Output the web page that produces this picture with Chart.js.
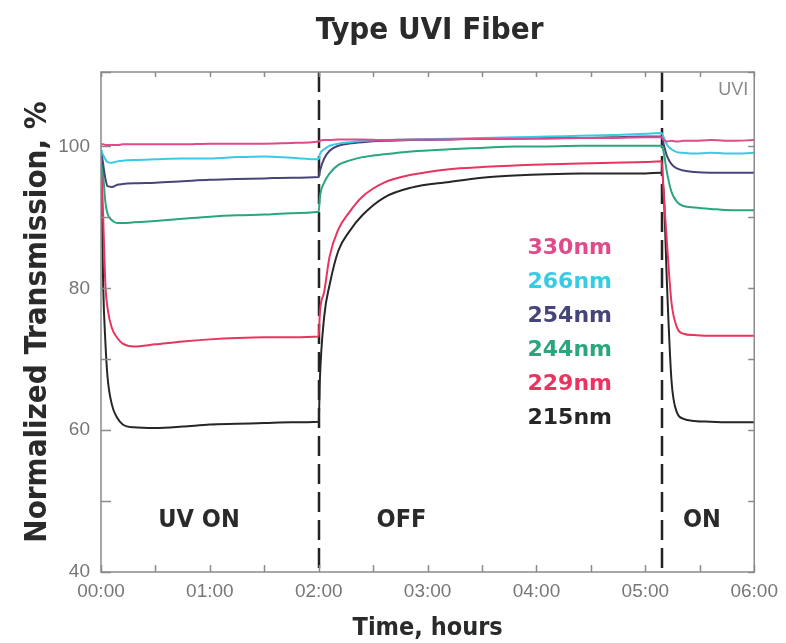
<!DOCTYPE html>
<html>
<head>
<meta charset="utf-8">
<script src="https://cdn.jsdelivr.net/npm/chart.js@4.4.1/dist/chart.umd.min.js"></script>
<style>
  html, body { margin: 0; padding: 0; background: #fff; }
</style>
</head>
<body>
<canvas id="uviChart" width="786" height="643"></canvas>
<script>
// Type UVI fiber — normalized transmission vs. time, UV on / off / on
const hours = [0, 0.02, 0.04, 0.06, 0.1, 0.15, 0.2, 0.3, 0.5, 0.75, 1.0, 1.25, 1.5, 1.75, 2.0,
  2.01, 2.05, 2.1, 2.18, 2.28, 2.4, 2.6, 2.85, 3.2, 3.5, 3.8, 4.1, 4.4, 4.7, 5.0,
  5.15, 5.17, 5.2, 5.24, 5.29, 5.35, 5.45, 5.6, 5.8, 6.0];

const nm330 = [100.3, 100.3, 100.2, 100.2, 100.2, 100.2, 100.3, 100.3, 100.3, 100.3, 100.4, 100.4, 100.4, 100.5, 100.7,
  100.8, 100.9, 100.9, 101.0, 101.0, 101.0, 100.9, 101.0, 101.0, 101.1, 101.1, 101.1, 101.2, 101.2, 101.3,
  101.3, 100.9, 100.7, 100.8, 100.7, 100.8, 100.8, 100.9, 100.8, 100.9];
const nm266 = [99.6, 98.8, 98.2, 97.8, 97.7, 97.9, 98.0, 98.1, 98.2, 98.3, 98.3, 98.5, 98.6, 98.4, 98.2,
  98.9, 99.6, 100.1, 100.4, 100.6, 100.8, 100.9, 101.0, 101.1, 101.2, 101.3, 101.4, 101.5, 101.6, 101.8,
  101.9, 101.2, 100.2, 99.6, 99.2, 99.1, 99.0, 99.1, 99.0, 99.1];
const nm254 = [99.6, 97.5, 95.5, 94.4, 94.3, 94.6, 94.7, 94.8, 94.9, 95.1, 95.3, 95.4, 95.5, 95.6, 95.7,
  96.5, 98.3, 99.4, 100.1, 100.4, 100.6, 100.8, 100.9, 101.0, 101.1, 101.1, 101.2, 101.2, 101.3, 101.4,
  101.4, 100.2, 98.6, 97.5, 96.9, 96.6, 96.4, 96.3, 96.3, 96.3];
const nm244 = [99.2, 96.0, 92.2, 90.5, 89.6, 89.2, 89.2, 89.3, 89.5, 89.8, 90.1, 90.3, 90.4, 90.6, 90.8,
  92.8, 94.9, 96.2, 97.4, 98.0, 98.5, 98.9, 99.3, 99.6, 99.8, 100.0, 100.0, 100.1, 100.1, 100.1,
  100.1, 99.0, 96.2, 93.6, 92.2, 91.6, 91.4, 91.2, 91.0, 91.0];
const nm229 = [99.5, 90.0, 80.6, 77.2, 74.4, 73.0, 72.2, 71.8, 72.1, 72.5, 72.8, 73.0, 73.1, 73.1, 73.2,
  76.5, 79.5, 84.5, 88.3, 90.7, 92.9, 94.9, 96.0, 96.8, 97.1, 97.3, 97.5, 97.6, 97.7, 97.8,
  97.9, 93.0, 86.0, 78.0, 74.5, 73.6, 73.4, 73.3, 73.3, 73.3];
const nm215 = [99.0, 80.4, 72.5, 67.5, 63.6, 61.7, 60.8, 60.4, 60.3, 60.5, 60.8, 60.9, 61.0, 61.1, 61.2,
  67.0, 76.0, 80.5, 85.3, 88.0, 90.3, 92.8, 94.2, 95.0, 95.6, 95.9, 96.1, 96.2, 96.2, 96.2,
  96.3, 93.0, 80.0, 67.0, 62.5, 61.6, 61.3, 61.2, 61.1, 61.1];

const wavelengths = ['330nm', '266nm', '254nm', '244nm', '229nm', '215nm'];
const seriesValues = [nm330, nm266, nm254, nm244, nm229, nm215];
const lineColors = ['#e0498a', '#38cbe6', '#45457a', '#2aa67c', '#e8345e', '#262626'];

const switchHours = [2.0, 5.15];            // UV off at 02:00, back on at 05:09
const phaseLabels = ['UV ON', 'OFF', 'ON'];
const phaseHours = [0.9, 2.76, 5.52];
const phaseLevel = 47.2;
const yLabelValues = [40, 60, 80, 100];

const condensed = "'DejaVu Sans Condensed', 'DejaVu Sans', sans-serif";
const narrow = "'Liberation Sans Narrow', 'Liberation Sans', sans-serif";

function hh(v) {
  return String(v).padStart(2, '0') + ':00';
}

const decorPlugin = {
  id: 'decor',
  beforeDatasetsDraw(chart) {
    const { ctx, chartArea: a, scales: { x } } = chart;
    ctx.save();
    ctx.strokeStyle = '#222';
    ctx.lineWidth = 2.5;
    ctx.setLineDash([20, 8]);
    switchHours.forEach(h => {
      const px = Math.round(x.getPixelForValue(h));
      ctx.beginPath();
      ctx.moveTo(px, a.top);
      ctx.lineTo(px, a.bottom);
      ctx.stroke();
    });
    ctx.restore();
  },
  afterDraw(chart) {
    const { ctx, chartArea: a, scales: { x, y } } = chart;
    ctx.save();

    // frame + inward ticks
    ctx.strokeStyle = '#8a8a8a';
    ctx.lineWidth = 1.5;
    ctx.strokeRect(a.left, a.top, a.right - a.left, a.bottom - a.top);
    ctx.beginPath();
    x.ticks.forEach(t => {
      const px = Math.round(x.getPixelForValue(t.value)) + 0.5;
      ctx.moveTo(px, a.bottom); ctx.lineTo(px, a.bottom - 7);
      ctx.moveTo(px, a.top); ctx.lineTo(px, a.top + 5);
    });
    y.ticks.forEach(t => {
      const py = Math.round(y.getPixelForValue(t.value)) + 0.5;
      ctx.moveTo(a.left, py); ctx.lineTo(a.left + 10, py);
      ctx.moveTo(a.right, py); ctx.lineTo(a.right - 6, py);
    });
    ctx.stroke();

    // title
    ctx.fillStyle = '#2a2a2a';
    ctx.textAlign = 'center';
    ctx.textBaseline = 'middle';
    ctx.font = `bold 31px ${condensed}`;
    ctx.fillText('Type UVI Fiber', (a.left + a.right) / 2 + 2, 31);

    // phase labels
    ctx.font = `bold 25px ${condensed}`;
    phaseLabels.forEach((txt, i) => {
      ctx.fillText(txt, x.getPixelForValue(phaseHours[i]), y.getPixelForValue(phaseLevel));
    });

    // UVI tag
    ctx.font = `18px ${narrow}`;
    ctx.fillStyle = '#8a8a8a';
    ctx.textAlign = 'right';
    ctx.fillText('UVI', a.right - 6, a.top + 18);

    // coloured legend
    ctx.font = `bold 22px 'DejaVu Sans', sans-serif`;
    chart.data.datasets.forEach((ds, i) => {
      ctx.fillStyle = ds.borderColor;
      ctx.fillText(ds.label, a.left + 511, a.top + 176 + i * 34);
    });
    ctx.restore();
  }
};

new Chart(document.getElementById('uviChart'), {
  type: 'line',
  data: {
    datasets: wavelengths.map((label, i) => ({
      label,
      data: hours.map((h, k) => ({ x: h, y: seriesValues[i][k] })),
      borderColor: lineColors[i],
      borderWidth: 2,
      pointRadius: 0,
      fill: false,
      tension: 0.4,
      cubicInterpolationMode: 'monotone',
    })),
  },
  options: {
    responsive: false,
    animation: false,
    layout: { padding: { top: 72, right: 28, left: 0, bottom: 0 } },
    plugins: { legend: { display: false }, title: { display: false }, tooltip: { enabled: false } },
    scales: {
      x: {
        type: 'linear',
        min: 0,
        max: 6,
        grid: { display: false, drawTicks: false },
        border: { display: false },
        ticks: {
          stepSize: 0.5,
          autoSkip: false,
          maxRotation: 0,
          padding: 8,
          color: '#777',
          font: { family: narrow, size: 19 },
          callback: v => (Number.isInteger(v) ? hh(v) : ''),
        },
        title: {
          display: true,
          text: 'Time, hours',
          color: '#2a2a2a',
          font: { family: condensed, size: 25, weight: 'bold' },
          padding: { top: 0, bottom: 0 },
        },
        afterFit: s => { s.height = 71; },
      },
      y: {
        min: 40,
        max: 110.5,
        grid: { display: false, drawTicks: false },
        border: { display: false },
        ticks: {
          stepSize: 10,
          autoSkip: false,
          padding: 11,
          color: '#777',
          font: { family: narrow, size: 19 },
          callback: v => (yLabelValues.includes(v) ? String(v) : ''),
        },
        title: {
          display: true,
          text: 'Normalized Transmission, %',
          color: '#2a2a2a',
          font: { family: condensed, size: 31, weight: 'bold' },
          padding: { top: 19, bottom: 0 },
        },
        afterFit: s => { s.width = 101; },
      },
    },
  },
  plugins: [decorPlugin],
});
</script>
</body>
</html>
